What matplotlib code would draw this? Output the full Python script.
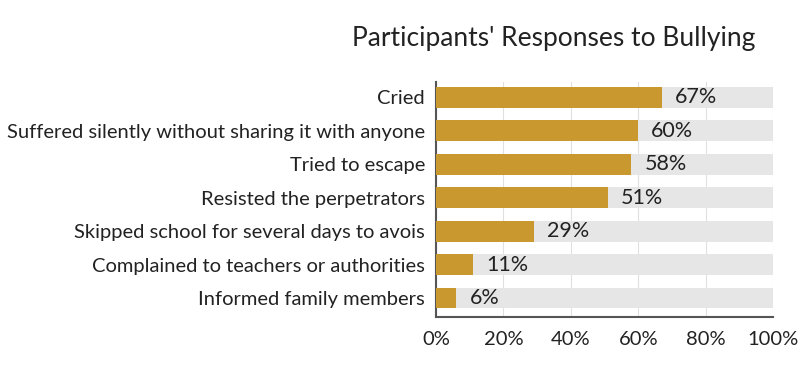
import matplotlib.pyplot as plt
import numpy as np

categories = ['Cried',
              'Suffered silently without sharing it with anyone',
              'Tried to escape',
              'Resisted the perpetrators',
              'Skipped school for several days to avois',
              'Complained to teachers or authorities',
              'Informed family members']
values = [67, 60, 58, 51, 29, 11, 6]
ticks = [0, 20, 40, 60, 80, 100]

plt.rcParams['font.family'] = ['Lato', 'DejaVu Sans']

fig = plt.figure(figsize=(8.12, 3.84), dpi=100)
ax = fig.add_axes([0.537, 0.174, 0.415, 0.612])

y = np.arange(len(categories))[::-1]
ax.barh(y, [100] * len(values), height=0.62, color='#e6e6e6', zorder=2)
ax.barh(y, values, height=0.62, color='#c9982f', zorder=3)

for yi, v in zip(y, values):
    ax.text(v + 3.9, yi, f'{v}%', va='center', ha='left', fontsize=15.5, color='#222222', zorder=4)

ax.set_xlim(0, 100)
ax.set_ylim(-0.57, 6.45)
ax.set_yticks(y)
ax.set_yticklabels(categories, fontsize=14.5, color='#222222')
ax.set_xticks(ticks)
ax.set_xticklabels([f'{t}%' for t in ticks], fontsize=14.5, color='#222222')
ax.tick_params(length=0, pad=8)
ax.tick_params(axis='x', pad=10)

ax.grid(axis='x', color='#e0e0e0', linewidth=0.8, zorder=1)
ax.set_axisbelow(True)
for s in ['top', 'right']:
    ax.spines[s].set_visible(False)
for s in ['left', 'bottom']:
    ax.spines[s].set_color('#555555')
    ax.spines[s].set_linewidth(1.5)

fig.text(0.433, 0.9, "Participants' Responses to Bullying", fontsize=19, color='#222222', va='center')

fig.savefig('out.png', dpi=100)
